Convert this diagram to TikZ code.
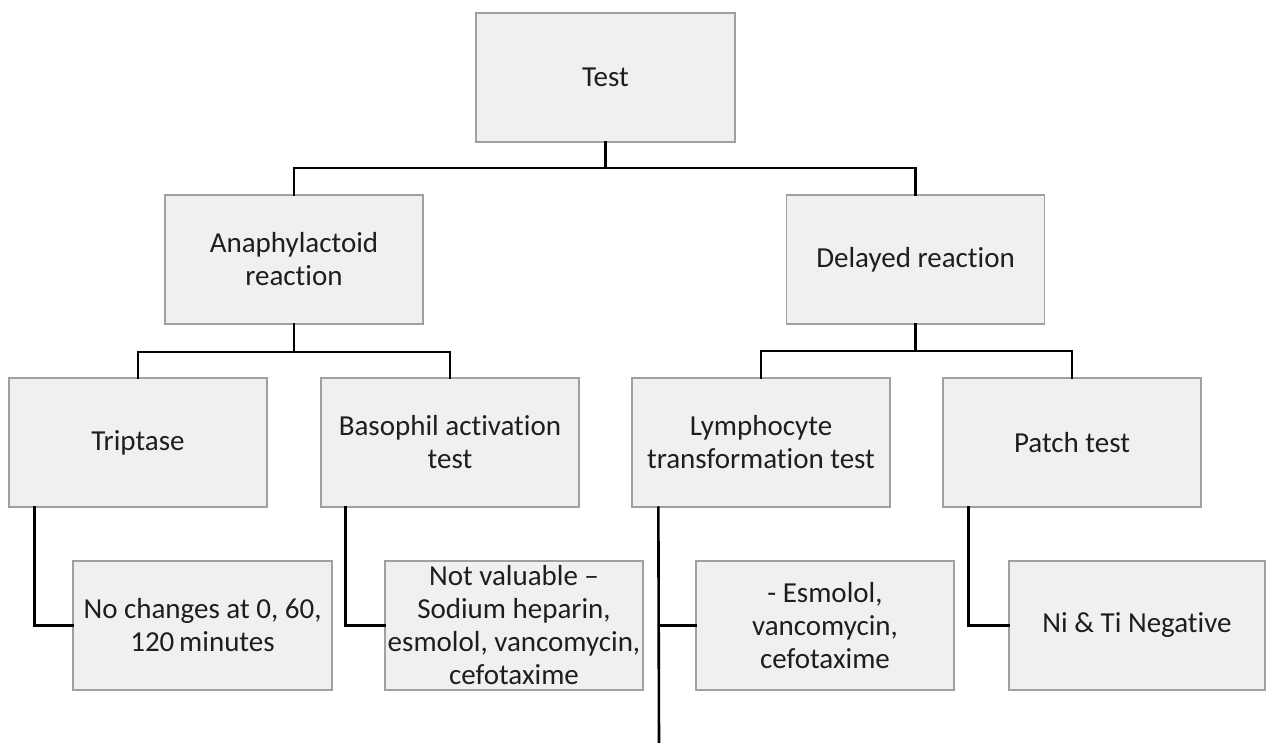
\documentclass[tikz,border=0pt]{standalone}
\usepackage{fontspec}
\setmainfont[Ligatures={NoCommon,NoContextual,NoRare},Contextuals=NoAlternate]{Carlito}
\definecolor{boxfill}{HTML}{EFF0F0}
\definecolor{boxline}{HTML}{A0A0A0}
\definecolor{txt}{HTML}{1E1E1E}
\newcommand\nlg{\kern0pt}
\begin{document}
\begin{tikzpicture}[x=1pt,y=-1pt,
  box/.style={draw=boxline, line width=1.3pt, fill=boxfill, minimum width=258pt, minimum height=129pt,
    inner sep=2pt, align=center, text=txt, font=\fontsize{29}{33}\selectfont},
  link/.style={draw=black, line width=2.6pt, line cap=rect}]
\useasboundingbox (0,0) rectangle (1266,742);
\node[box, minimum width=259pt] (test) at (605.5,77.5) {Test};
\node[box] (ana) at (294,259.5) {Anaphylactoid\\reaction};
\node[box] (del) at (915.5,259.5) {Delayed reaction};
\node[box] (tri) at (138,442.5) {Triptase};
\node[box] (bas) at (450,442.5) {Basophil activat\nlg ion\\test};
\node[box] (lym) at (761,442.5) {Lymphocyte\\transformat\nlg ion test};
\node[box] (pat) at (1072,442.5) {Patch test};
\node[box, minimum width=259pt] (noch) at (202.5,625.5) {No changes at 0, 60,\\120\,minutes};
\node[box] (notv) at (514,625.5) {Not valuable --\\Sodium heparin,\\esmolol, vancomycin,\\cefotaxime};
\node[box] (esm) at (825,625.5) {- Esmolol,\\vancomycin,\\cefotaxime};
\node[box, minimum width=256pt] (ni) at (1137,625.5) {Ni \& Ti Negat\nlg ive};
\coordinate (j1) at (605.5,168);
\coordinate (j2) at (294,352);
\coordinate (j3) at (915.5,351);
\coordinate (lymend) at (659,745);
\draw[link] (test.south) -- (j1);
\draw[link] (j1) -| (ana.north);
\draw[link] (j1) -| (del.north);
\draw[link] (ana.south) -- (j2);
\draw[link] (j2) -| (tri.north);
\draw[link] (j2) -| (bas.north);
\draw[link] (del.south) -- (j3);
\draw[link] (j3) -| (lym.north);
\draw[link] (j3) -| (pat.north);
\draw[link] ([xshift=26pt]tri.south west) |- (noch.west);
\draw[link] ([xshift=25pt]bas.south west) |- (notv.west);
\draw[link] ([xshift=27pt]lym.south west) -- (lymend);
\draw[link] (lymend |- esm.west) -- (esm.west);
\draw[link] ([xshift=26pt]pat.south west) |- (ni.west);
\end{tikzpicture}
\end{document}
